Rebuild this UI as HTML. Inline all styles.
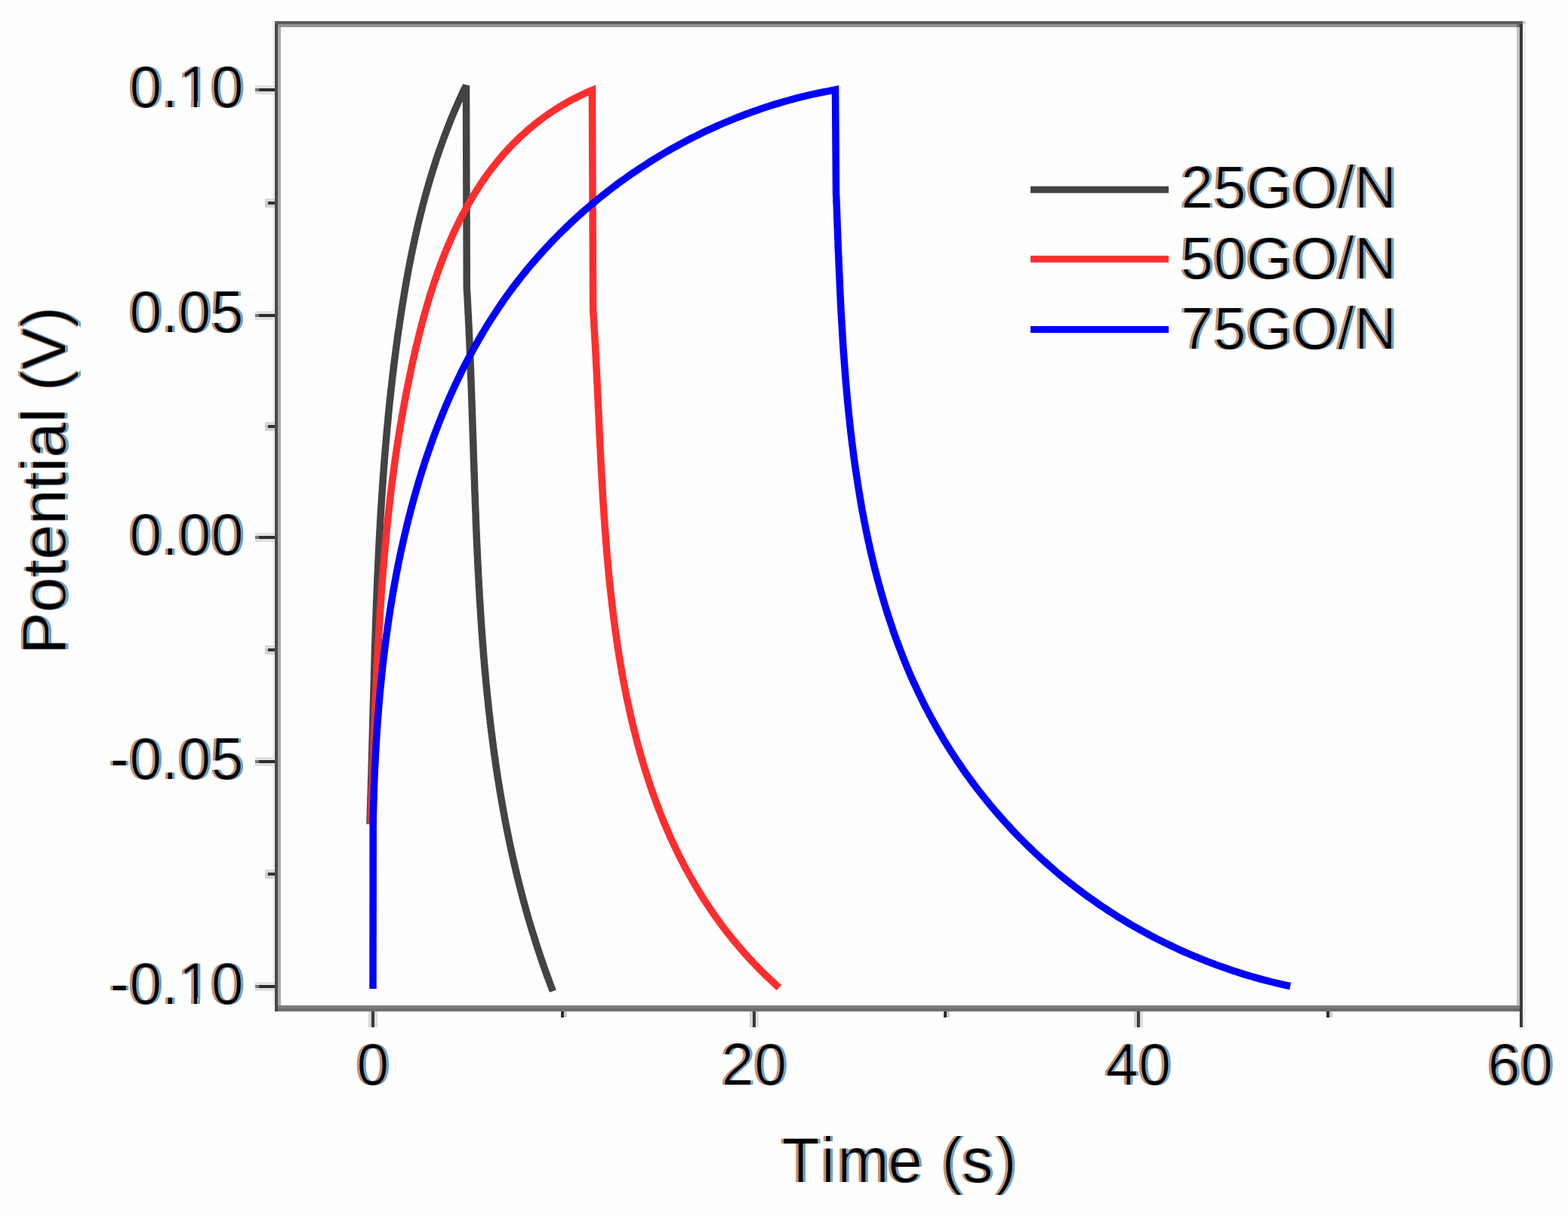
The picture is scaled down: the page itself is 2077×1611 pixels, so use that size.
<!DOCTYPE html>
<html><head><meta charset="utf-8"><title>Galvanostatic charge-discharge</title>
<style>html,body{margin:0;padding:0;background:#fefefe;overflow:hidden}svg{display:block}</style>
</head><body>
<svg width="2077" height="1611" viewBox="0 0 2077 1611">
<rect width="2077" height="1611" fill="#fefefe"/>
<g shape-rendering="crispEdges">
<rect x="360" y="32" width="4" height="1300" fill="#f2f2f2"/>
<rect x="364" y="28" width="1653" height="4" fill="#5c5c5c"/>
<rect x="368" y="32" width="1641" height="4" fill="#939393"/>
<rect x="364" y="32" width="4" height="1308" fill="#484848"/>
<rect x="368" y="36" width="4" height="1296" fill="#a9a9a9"/>
<rect x="2009" y="36" width="4" height="1296" fill="#c3c3c3"/>
<rect x="2009" y="32" width="4" height="4" fill="#6a6a6a"/>
<rect x="2017" y="28" width="4" height="8" fill="#d0d0d0"/>
<rect x="2013" y="32" width="4" height="1329" fill="#3a3a3a"/>
<rect x="2017" y="32" width="4" height="1329" fill="#f3f3f3"/>
<rect x="368" y="1332" width="1645" height="4" fill="#7c7c7c"/>
<rect x="368" y="1336" width="1645" height="4" fill="#6e6e6e"/>
<rect x="338" y="113.4" width="26" height="4" fill="#e2e2e2"/>
<rect x="338" y="121.4" width="26" height="4" fill="#e0e0e0"/>
<rect x="338" y="117.4" width="5" height="4" fill="#777"/>
<rect x="343" y="117.4" width="21" height="4" fill="#2c2c2c"/>
<rect x="338" y="411.6" width="26" height="4" fill="#e2e2e2"/>
<rect x="338" y="419.6" width="26" height="4" fill="#e0e0e0"/>
<rect x="338" y="415.6" width="5" height="4" fill="#777"/>
<rect x="343" y="415.6" width="21" height="4" fill="#2c2c2c"/>
<rect x="338" y="706.0" width="26" height="4" fill="#e2e2e2"/>
<rect x="338" y="714.0" width="26" height="4" fill="#e0e0e0"/>
<rect x="338" y="710.0" width="5" height="4" fill="#777"/>
<rect x="343" y="710.0" width="21" height="4" fill="#2c2c2c"/>
<rect x="338" y="1003.0" width="26" height="4" fill="#e2e2e2"/>
<rect x="338" y="1011.0" width="26" height="4" fill="#e0e0e0"/>
<rect x="338" y="1007.0" width="5" height="4" fill="#777"/>
<rect x="343" y="1007.0" width="21" height="4" fill="#2c2c2c"/>
<rect x="338" y="1301.0" width="26" height="4" fill="#e2e2e2"/>
<rect x="338" y="1309.0" width="26" height="4" fill="#e0e0e0"/>
<rect x="338" y="1305.0" width="5" height="4" fill="#777"/>
<rect x="343" y="1305.0" width="21" height="4" fill="#2c2c2c"/>
<rect x="351" y="262.5" width="13" height="4" fill="#dadada"/>
<rect x="351" y="270.5" width="13" height="4" fill="#d2d2d2"/>
<rect x="351" y="266.5" width="4" height="4" fill="#c8c8c8"/>
<rect x="355" y="266.5" width="9" height="4" fill="#333"/>
<rect x="351" y="559.0" width="13" height="4" fill="#dadada"/>
<rect x="351" y="567.0" width="13" height="4" fill="#d2d2d2"/>
<rect x="351" y="563.0" width="4" height="4" fill="#c8c8c8"/>
<rect x="355" y="563.0" width="9" height="4" fill="#333"/>
<rect x="351" y="855.0" width="13" height="4" fill="#dadada"/>
<rect x="351" y="863.0" width="13" height="4" fill="#d2d2d2"/>
<rect x="351" y="859.0" width="4" height="4" fill="#c8c8c8"/>
<rect x="355" y="859.0" width="9" height="4" fill="#333"/>
<rect x="351" y="1152.0" width="13" height="4" fill="#dadada"/>
<rect x="351" y="1160.0" width="13" height="4" fill="#d2d2d2"/>
<rect x="351" y="1156.0" width="4" height="4" fill="#c8c8c8"/>
<rect x="355" y="1156.0" width="9" height="4" fill="#333"/>
<rect x="488.0" y="1340" width="4" height="21" fill="#d4d4d4"/>
<rect x="496.0" y="1340" width="4" height="21" fill="#dcdcdc"/>
<rect x="492.0" y="1340" width="4" height="21" fill="#3a3a3a"/>
<rect x="993.0" y="1340" width="4" height="21" fill="#d4d4d4"/>
<rect x="1001.0" y="1340" width="4" height="21" fill="#dcdcdc"/>
<rect x="997.0" y="1340" width="4" height="21" fill="#3a3a3a"/>
<rect x="1502.0" y="1340" width="4" height="21" fill="#d4d4d4"/>
<rect x="1510.0" y="1340" width="4" height="21" fill="#dcdcdc"/>
<rect x="1506.0" y="1340" width="4" height="21" fill="#3a3a3a"/>
<rect x="743.0" y="1340" width="4" height="8" fill="#2e2e2e"/>
<rect x="747.0" y="1340" width="4" height="8" fill="#cfcfcf"/>
<rect x="1250.0" y="1340" width="4" height="8" fill="#2e2e2e"/>
<rect x="1254.0" y="1340" width="4" height="8" fill="#cfcfcf"/>
<rect x="1757.0" y="1340" width="4" height="8" fill="#2e2e2e"/>
<rect x="1761.0" y="1340" width="4" height="8" fill="#cfcfcf"/>
</g>
<g fill="none" stroke-width="9.5" stroke-linejoin="miter" stroke-miterlimit="4" stroke-linecap="butt">
<path d="M489.9 1092.0 L490.1 1087.0 L490.3 1082.1 L490.4 1077.2 L490.6 1072.2 L490.7 1067.3 L490.9 1062.3 L491.0 1057.4 L491.2 1052.4 L491.3 1047.4 L491.5 1042.5 L491.6 1037.5 L491.8 1032.6 L491.9 1027.6 L492.1 1022.6 L492.2 1017.7 L492.3 1012.7 L492.5 1007.7 L492.6 1002.8 L492.7 997.8 L492.9 992.8 L493.0 987.8 L493.1 982.9 L493.3 977.9 L493.4 972.9 L493.5 967.9 L493.7 962.9 L493.8 957.9 L493.9 953.0 L494.1 948.0 L494.2 943.0 L494.3 938.0 L494.5 933.0 L494.6 928.0 L494.8 923.0 L494.9 918.0 L495.0 913.0 L495.2 908.0 L495.3 903.0 L495.5 898.0 L495.6 893.0 L495.7 888.0 L495.9 883.0 L496.0 878.0 L496.2 873.0 L496.3 868.0 L496.5 863.0 L496.6 858.0 L496.8 853.0 L497.0 848.0 L497.1 842.9 L497.3 837.9 L497.5 832.9 L497.6 827.9 L497.8 822.9 L498.0 817.9 L498.2 812.9 L498.3 807.9 L498.5 802.9 L498.7 797.8 L498.9 792.8 L499.1 787.8 L499.3 782.8 L499.5 777.8 L499.7 772.8 L499.9 767.8 L500.1 762.7 L500.4 757.7 L500.6 752.7 L500.8 747.7 L501.1 742.7 L501.3 737.7 L501.5 732.7 L501.8 727.6 L502.0 722.6 L502.3 717.6 L502.5 712.6 L502.8 707.6 L503.1 702.6 L503.4 697.6 L503.6 692.6 L503.9 687.5 L504.2 682.5 L504.5 677.5 L504.8 672.5 L505.2 667.5 L505.5 662.5 L505.8 657.5 L506.1 652.5 L506.5 647.5 L506.8 642.5 L507.2 637.5 L507.5 632.5 L507.9 627.5 L508.3 622.5 L508.6 617.5 L509.0 612.5 L509.4 607.5 L509.8 602.5 L510.2 597.5 L510.6 592.5 L511.1 587.5 L511.5 582.5 L511.9 577.5 L512.4 572.5 L512.8 567.5 L513.3 562.5 L513.8 557.5 L514.2 552.5 L514.7 547.6 L515.2 542.6 L515.7 537.6 L516.2 532.6 L516.8 527.6 L517.3 522.6 L517.8 517.7 L518.4 512.7 L519.0 507.7 L519.5 502.8 L520.1 497.8 L520.7 492.8 L521.3 487.9 L521.9 482.9 L522.5 477.9 L523.1 473.0 L523.8 468.0 L524.4 463.1 L525.1 458.1 L525.8 453.2 L526.4 448.2 L527.1 443.3 L527.8 438.3 L528.6 433.4 L529.3 428.4 L530.0 423.5 L530.8 418.6 L531.5 413.6 L532.3 408.7 L533.1 403.8 L533.9 398.8 L534.7 393.9 L535.5 389.0 L536.3 384.1 L537.2 379.2 L538.0 374.3 L538.9 369.3 L539.8 364.4 L540.7 359.5 L541.6 354.6 L542.6 349.8 L543.5 344.9 L544.5 340.0 L545.5 335.1 L546.5 330.2 L547.5 325.4 L548.6 320.5 L549.6 315.7 L550.7 310.8 L551.8 306.0 L552.9 301.1 L554.0 296.3 L555.2 291.4 L556.4 286.6 L557.6 281.8 L558.8 277.0 L560.0 272.2 L561.3 267.4 L562.6 262.6 L563.9 257.8 L565.2 253.0 L566.6 248.2 L567.9 243.5 L569.3 238.7 L570.8 234.0 L572.2 229.2 L573.7 224.5 L575.2 219.8 L576.7 215.0 L578.2 210.3 L579.8 205.6 L581.4 200.9 L583.0 196.2 L584.7 191.5 L586.4 186.9 L588.1 182.2 L589.8 177.6 L591.6 172.9 L593.4 168.3 L595.2 163.6 L597.0 159.0 L598.9 154.4 L600.8 149.8 L602.8 145.2 L604.8 140.6 L606.8 136.1 L608.8 131.5 L610.9 127.0 L613.0 122.4 L615.1 117.9 L617.5 113.5 L618.3 380.0 L618.5 384.7 L618.8 389.4 L619.1 394.1 L619.3 398.8 L619.6 403.5 L619.8 408.2 L620.0 412.9 L620.3 417.6 L620.5 422.3 L620.7 427.0 L621.0 431.7 L621.2 436.4 L621.4 441.2 L621.6 445.9 L621.8 450.6 L622.0 455.3 L622.2 460.0 L622.4 464.8 L622.6 469.5 L622.8 474.2 L623.0 479.0 L623.2 483.7 L623.4 488.4 L623.5 493.2 L623.7 497.9 L623.9 502.6 L624.1 507.4 L624.2 512.1 L624.4 516.8 L624.6 521.6 L624.7 526.3 L624.9 531.1 L625.1 535.8 L625.2 540.6 L625.4 545.3 L625.6 550.1 L625.7 554.8 L625.9 559.6 L626.0 564.3 L626.2 569.1 L626.3 573.8 L626.5 578.6 L626.7 583.3 L626.8 588.1 L627.0 592.9 L627.1 597.6 L627.3 602.4 L627.4 607.1 L627.6 611.9 L627.8 616.7 L627.9 621.4 L628.1 626.2 L628.3 631.0 L628.4 635.7 L628.6 640.5 L628.7 645.2 L628.9 650.0 L629.1 654.8 L629.3 659.5 L629.4 664.3 L629.6 669.1 L629.8 673.8 L630.0 678.6 L630.2 683.4 L630.3 688.1 L630.5 692.9 L630.7 697.7 L630.9 702.4 L631.1 707.2 L631.3 712.0 L631.5 716.7 L631.7 721.5 L632.0 726.3 L632.2 731.0 L632.4 735.8 L632.6 740.6 L632.8 745.3 L633.1 750.1 L633.3 754.8 L633.6 759.6 L633.8 764.4 L634.1 769.1 L634.3 773.9 L634.6 778.7 L634.9 783.4 L635.1 788.2 L635.4 792.9 L635.7 797.7 L636.0 802.5 L636.3 807.2 L636.6 812.0 L636.9 816.7 L637.2 821.5 L637.5 826.2 L637.9 831.0 L638.2 835.7 L638.5 840.5 L638.9 845.2 L639.2 850.0 L639.6 854.7 L640.0 859.5 L640.3 864.2 L640.7 869.0 L641.1 873.7 L641.5 878.4 L641.9 883.2 L642.3 887.9 L642.8 892.7 L643.2 897.4 L643.6 902.1 L644.1 906.9 L644.6 911.6 L645.0 916.3 L645.5 921.0 L646.0 925.8 L646.5 930.5 L647.0 935.2 L647.5 939.9 L648.0 944.6 L648.6 949.4 L649.1 954.1 L649.6 958.8 L650.2 963.5 L650.8 968.2 L651.4 972.9 L652.0 977.6 L652.6 982.3 L653.2 987.0 L653.8 991.7 L654.4 996.4 L655.1 1001.1 L655.8 1005.8 L656.4 1010.5 L657.1 1015.2 L657.8 1019.9 L658.5 1024.5 L659.2 1029.2 L660.0 1033.9 L660.7 1038.6 L661.5 1043.2 L662.2 1047.9 L663.0 1052.6 L663.8 1057.2 L664.6 1061.9 L665.4 1066.6 L666.3 1071.2 L667.1 1075.9 L668.0 1080.5 L668.8 1085.2 L669.7 1089.8 L670.6 1094.4 L671.5 1099.1 L672.5 1103.7 L673.4 1108.4 L674.3 1113.0 L675.3 1117.6 L676.3 1122.2 L677.3 1126.9 L678.3 1131.5 L679.3 1136.1 L680.4 1140.7 L681.4 1145.3 L682.5 1149.9 L683.6 1154.5 L684.7 1159.1 L685.8 1163.7 L687.0 1168.3 L688.1 1172.9 L689.3 1177.4 L690.5 1182.0 L691.7 1186.6 L692.9 1191.2 L694.1 1195.7 L695.4 1200.3 L696.6 1204.9 L697.9 1209.4 L699.2 1214.0 L700.5 1218.5 L701.9 1223.1 L703.2 1227.6 L704.6 1232.1 L706.0 1236.7 L707.4 1241.2 L708.8 1245.7 L710.2 1250.2 L711.7 1254.8 L713.2 1259.3 L714.7 1263.8 L716.2 1268.3 L717.7 1272.8 L719.3 1277.3 L720.8 1281.8 L722.4 1286.2 L724.0 1290.7 L725.7 1295.2 L727.3 1299.7 L729.0 1304.1 L730.7 1308.6 L732.4 1313.1" stroke="#434343"/>
<path d="M490.9 1092.0 L491.2 1086.6 L491.4 1081.2 L491.6 1075.9 L491.8 1070.5 L492.0 1065.1 L492.3 1059.7 L492.5 1054.4 L492.7 1049.0 L492.9 1043.6 L493.1 1038.2 L493.3 1032.9 L493.5 1027.5 L493.7 1022.1 L493.9 1016.8 L494.1 1011.4 L494.4 1006.0 L494.6 1000.7 L494.8 995.3 L495.0 990.0 L495.2 984.6 L495.4 979.3 L495.6 973.9 L495.8 968.5 L496.0 963.2 L496.2 957.8 L496.5 952.5 L496.7 947.1 L496.9 941.8 L497.1 936.4 L497.3 931.1 L497.6 925.7 L497.8 920.4 L498.0 915.1 L498.3 909.7 L498.5 904.4 L498.8 899.0 L499.0 893.7 L499.3 888.3 L499.5 883.0 L499.8 877.7 L500.0 872.3 L500.3 867.0 L500.6 861.7 L500.9 856.3 L501.2 851.0 L501.5 845.7 L501.8 840.3 L502.1 835.0 L502.4 829.7 L502.7 824.3 L503.0 819.0 L503.4 813.7 L503.7 808.3 L504.0 803.0 L504.4 797.7 L504.8 792.4 L505.1 787.0 L505.5 781.7 L505.9 776.4 L506.3 771.0 L506.7 765.7 L507.1 760.4 L507.5 755.1 L508.0 749.7 L508.4 744.4 L508.8 739.1 L509.3 733.8 L509.8 728.5 L510.3 723.1 L510.8 717.8 L511.3 712.5 L511.8 707.2 L512.3 701.8 L512.8 696.5 L513.4 691.2 L513.9 685.9 L514.5 680.6 L515.1 675.3 L515.7 669.9 L516.3 664.6 L516.9 659.3 L517.5 654.0 L518.2 648.7 L518.8 643.3 L519.5 638.0 L520.2 632.7 L520.9 627.4 L521.6 622.1 L522.3 616.7 L523.1 611.4 L523.8 606.1 L524.6 600.8 L525.4 595.5 L526.2 590.2 L527.0 584.8 L527.8 579.5 L528.7 574.2 L529.6 568.9 L530.4 563.6 L531.3 558.2 L532.3 552.9 L533.2 547.6 L534.1 542.3 L535.1 537.0 L536.1 531.6 L537.1 526.3 L538.1 521.0 L539.1 515.7 L540.2 510.4 L541.3 505.0 L542.4 499.7 L543.5 494.4 L544.6 489.1 L545.7 483.8 L546.9 478.4 L548.1 473.1 L549.3 467.8 L550.5 462.5 L551.8 457.2 L553.1 451.9 L554.4 446.6 L555.7 441.3 L557.0 436.0 L558.4 430.7 L559.8 425.4 L561.2 420.2 L562.7 414.9 L564.2 409.7 L565.7 404.4 L567.2 399.2 L568.8 394.0 L570.4 388.8 L572.1 383.7 L573.7 378.5 L575.4 373.4 L577.2 368.3 L578.9 363.2 L580.7 358.1 L582.6 353.0 L584.5 348.0 L586.4 343.0 L588.3 338.0 L590.3 333.0 L592.4 328.1 L594.4 323.2 L596.6 318.3 L598.7 313.4 L600.9 308.6 L603.1 303.8 L605.4 299.0 L607.8 294.2 L610.1 289.5 L612.5 284.8 L615.0 280.2 L617.5 275.6 L620.1 271.0 L622.7 266.5 L625.3 262.0 L628.0 257.5 L630.8 253.1 L633.6 248.7 L636.4 244.3 L639.3 240.0 L642.3 235.7 L645.3 231.5 L648.4 227.3 L651.5 223.2 L654.7 219.1 L657.9 215.1 L661.2 211.1 L664.6 207.1 L668.0 203.2 L671.4 199.4 L675.0 195.6 L678.5 191.8 L682.2 188.1 L685.9 184.5 L689.7 180.9 L693.5 177.4 L697.4 173.9 L701.4 170.4 L705.4 167.1 L709.5 163.8 L713.6 160.5 L717.9 157.3 L722.1 154.2 L726.5 151.1 L730.9 148.1 L735.4 145.2 L740.0 142.3 L744.6 139.5 L749.4 136.7 L754.1 134.0 L759.0 131.4 L763.9 128.9 L768.9 126.4 L774.0 124.0 L779.2 121.7 L784.4 119.6 L785.6 410.0 L785.9 414.7 L786.2 419.4 L786.5 424.0 L786.8 428.7 L787.0 433.4 L787.3 438.0 L787.6 442.7 L787.9 447.4 L788.1 452.1 L788.4 456.8 L788.7 461.5 L788.9 466.2 L789.2 471.0 L789.4 475.7 L789.6 480.4 L789.9 485.2 L790.1 489.9 L790.4 494.7 L790.6 499.5 L790.8 504.2 L791.1 509.0 L791.3 513.8 L791.5 518.6 L791.7 523.4 L792.0 528.2 L792.2 533.0 L792.4 537.8 L792.6 542.6 L792.9 547.4 L793.1 552.2 L793.3 557.1 L793.5 561.9 L793.8 566.7 L794.0 571.6 L794.2 576.4 L794.5 581.3 L794.7 586.1 L794.9 591.0 L795.2 595.8 L795.4 600.7 L795.7 605.6 L795.9 610.4 L796.2 615.3 L796.4 620.2 L796.7 625.1 L796.9 629.9 L797.2 634.8 L797.5 639.7 L797.8 644.6 L798.1 649.5 L798.3 654.4 L798.6 659.2 L798.9 664.1 L799.2 669.0 L799.6 673.9 L799.9 678.8 L800.2 683.7 L800.5 688.6 L800.9 693.5 L801.2 698.4 L801.6 703.3 L802.0 708.1 L802.3 713.0 L802.7 717.9 L803.1 722.8 L803.5 727.7 L803.9 732.6 L804.3 737.5 L804.8 742.4 L805.2 747.3 L805.6 752.1 L806.1 757.0 L806.6 761.9 L807.0 766.8 L807.5 771.7 L808.0 776.5 L808.5 781.4 L809.1 786.3 L809.6 791.1 L810.2 796.0 L810.7 800.9 L811.3 805.7 L811.9 810.6 L812.5 815.4 L813.1 820.3 L813.7 825.1 L814.4 830.0 L815.0 834.8 L815.7 839.6 L816.4 844.4 L817.1 849.3 L817.8 854.1 L818.5 858.9 L819.3 863.7 L820.0 868.5 L820.8 873.3 L821.6 878.1 L822.4 882.9 L823.2 887.7 L824.1 892.4 L824.9 897.2 L825.8 902.0 L826.7 906.7 L827.6 911.5 L828.6 916.2 L829.5 921.0 L830.5 925.7 L831.5 930.4 L832.5 935.1 L833.5 939.8 L834.6 944.5 L835.6 949.2 L836.7 953.9 L837.8 958.6 L838.9 963.3 L840.1 967.9 L841.3 972.6 L842.5 977.2 L843.7 981.9 L844.9 986.5 L846.2 991.1 L847.4 995.7 L848.7 1000.3 L850.1 1004.9 L851.4 1009.5 L852.8 1014.1 L854.2 1018.6 L855.6 1023.2 L857.0 1027.7 L858.5 1032.2 L860.0 1036.8 L861.5 1041.3 L863.0 1045.8 L864.6 1050.3 L866.2 1054.7 L867.8 1059.2 L869.4 1063.6 L871.1 1068.1 L872.8 1072.5 L874.5 1076.9 L876.2 1081.3 L878.0 1085.7 L879.8 1090.1 L881.6 1094.5 L883.5 1098.8 L885.4 1103.1 L887.3 1107.5 L889.2 1111.8 L891.2 1116.1 L893.2 1120.3 L895.2 1124.6 L897.3 1128.9 L899.4 1133.1 L901.5 1137.3 L903.7 1141.5 L905.8 1145.7 L908.0 1149.9 L910.3 1154.0 L912.6 1158.2 L914.9 1162.3 L917.2 1166.4 L919.6 1170.5 L922.0 1174.6 L924.4 1178.7 L926.9 1182.7 L929.4 1186.7 L931.9 1190.7 L934.5 1194.7 L937.1 1198.7 L939.7 1202.6 L942.4 1206.6 L945.1 1210.5 L947.8 1214.4 L950.6 1218.3 L953.4 1222.1 L956.2 1226.0 L959.1 1229.8 L962.0 1233.6 L965.0 1237.4 L968.0 1241.1 L971.0 1244.9 L974.1 1248.6 L977.2 1252.3 L980.3 1256.0 L983.5 1259.6 L986.7 1263.3 L989.9 1266.9 L993.2 1270.5 L996.6 1274.0 L999.9 1277.6 L1003.3 1281.1 L1006.8 1284.6 L1010.3 1288.1 L1013.8 1291.6 L1017.4 1295.0 L1021.0 1298.4 L1024.6 1301.8 L1028.3 1305.2 L1032.0 1308.5" stroke="#ff2e2e"/>
<path d="M494 1310 L494.2 1092.9 L494.3 1086.8 L494.4 1080.7 L494.6 1074.5 L494.7 1068.4 L494.9 1062.2 L495.1 1056.1 L495.3 1049.9 L495.5 1043.7 L495.7 1037.5 L495.9 1031.2 L496.2 1025.0 L496.5 1018.7 L496.8 1012.5 L497.1 1006.2 L497.4 999.9 L497.8 993.7 L498.1 987.4 L498.5 981.1 L498.9 974.7 L499.3 968.4 L499.7 962.1 L500.2 955.8 L500.7 949.4 L501.2 943.1 L501.7 936.7 L502.2 930.4 L502.8 924.0 L503.3 917.7 L503.9 911.3 L504.6 904.9 L505.2 898.6 L505.9 892.2 L506.5 885.8 L507.2 879.4 L508.0 873.1 L508.7 866.7 L509.5 860.3 L510.3 853.9 L511.1 847.5 L512.0 841.2 L512.9 834.8 L513.8 828.4 L514.7 822.1 L515.7 815.7 L516.6 809.3 L517.6 803.0 L518.7 796.6 L519.7 790.2 L520.8 783.9 L521.9 777.6 L523.1 771.2 L524.2 764.9 L525.4 758.6 L526.7 752.2 L527.9 745.9 L529.2 739.6 L530.5 733.3 L531.9 727.0 L533.3 720.8 L534.7 714.5 L536.1 708.2 L537.6 702.0 L539.1 695.7 L540.6 689.5 L542.2 683.3 L543.8 677.1 L545.4 670.9 L547.1 664.7 L548.8 658.6 L550.5 652.4 L552.3 646.3 L554.1 640.1 L555.9 634.0 L557.8 627.9 L559.7 621.9 L561.6 615.8 L563.6 609.8 L565.6 603.7 L567.7 597.7 L569.8 591.7 L571.9 585.7 L574.0 579.8 L576.2 573.8 L578.5 567.9 L580.7 562.0 L583.1 556.2 L585.4 550.3 L587.8 544.5 L590.2 538.6 L592.7 532.8 L595.2 527.1 L597.8 521.3 L600.4 515.6 L603.0 509.9 L605.7 504.2 L608.4 498.6 L611.1 492.9 L613.9 487.3 L616.8 481.8 L619.7 476.2 L622.6 470.7 L625.6 465.2 L628.6 459.7 L631.7 454.3 L634.8 448.8 L637.9 443.5 L641.1 438.1 L644.3 432.8 L647.6 427.5 L651.0 422.2 L654.3 417.0 L657.8 411.8 L661.2 406.6 L664.7 401.4 L668.3 396.3 L671.9 391.2 L675.6 386.2 L679.3 381.2 L683.0 376.2 L686.9 371.3 L690.7 366.4 L694.6 361.5 L698.6 356.6 L702.6 351.8 L706.6 347.1 L710.7 342.3 L714.9 337.7 L719.1 333.0 L723.3 328.4 L727.6 323.8 L731.9 319.3 L736.3 314.8 L740.7 310.3 L745.2 305.9 L749.7 301.5 L754.2 297.1 L758.8 292.8 L763.4 288.6 L768.1 284.3 L772.8 280.2 L777.6 276.0 L782.4 271.9 L787.2 267.9 L792.1 263.9 L797.0 259.9 L802.0 256.0 L806.9 252.1 L812.0 248.2 L817.0 244.4 L822.1 240.7 L827.3 237.0 L832.4 233.3 L837.6 229.7 L842.9 226.2 L848.1 222.6 L853.5 219.2 L858.8 215.7 L864.2 212.4 L869.6 209.0 L875.0 205.7 L880.5 202.5 L886.0 199.3 L891.5 196.2 L897.1 193.1 L902.6 190.1 L908.3 187.1 L913.9 184.1 L919.6 181.3 L925.3 178.4 L931.0 175.6 L936.8 172.9 L942.5 170.2 L948.3 167.6 L954.2 165.0 L960.0 162.5 L965.9 160.1 L971.8 157.6 L977.7 155.3 L983.7 153.0 L989.6 150.7 L995.6 148.5 L1001.6 146.4 L1007.7 144.3 L1013.7 142.3 L1019.8 140.3 L1025.9 138.4 L1032.0 136.6 L1038.1 134.8 L1044.3 133.0 L1050.4 131.4 L1056.6 129.7 L1062.8 128.2 L1069.0 126.7 L1075.3 125.2 L1081.5 123.9 L1087.8 122.5 L1094.1 121.3 L1100.3 120.1 L1106.5 118.8 L1107.5 255.0 L1107.8 261.5 L1108.0 268.0 L1108.3 274.4 L1108.5 280.9 L1108.7 287.4 L1109.0 293.9 L1109.2 300.5 L1109.5 307.0 L1109.7 313.5 L1110.0 320.1 L1110.2 326.7 L1110.5 333.3 L1110.8 339.9 L1111.0 346.5 L1111.3 353.1 L1111.6 359.7 L1111.9 366.4 L1112.2 373.0 L1112.5 379.7 L1112.8 386.3 L1113.1 393.0 L1113.4 399.7 L1113.8 406.4 L1114.1 413.1 L1114.5 419.8 L1114.9 426.5 L1115.3 433.2 L1115.7 439.9 L1116.1 446.6 L1116.5 453.4 L1116.9 460.1 L1117.4 466.8 L1117.9 473.5 L1118.4 480.3 L1118.9 487.0 L1119.4 493.8 L1119.9 500.5 L1120.5 507.2 L1121.1 514.0 L1121.7 520.7 L1122.3 527.5 L1122.9 534.2 L1123.6 541.0 L1124.3 547.7 L1125.0 554.4 L1125.7 561.2 L1126.4 567.9 L1127.2 574.6 L1128.0 581.4 L1128.8 588.1 L1129.7 594.8 L1130.5 601.5 L1131.4 608.2 L1132.3 614.9 L1133.3 621.6 L1134.3 628.3 L1135.3 635.0 L1136.3 641.6 L1137.4 648.3 L1138.5 655.0 L1139.6 661.6 L1140.7 668.2 L1141.9 674.9 L1143.1 681.5 L1144.4 688.1 L1145.7 694.7 L1147.0 701.3 L1148.4 707.9 L1149.7 714.4 L1151.2 721.0 L1152.6 727.5 L1154.1 734.1 L1155.7 740.6 L1157.2 747.1 L1158.8 753.6 L1160.5 760.0 L1162.2 766.5 L1163.9 772.9 L1165.7 779.3 L1167.5 785.8 L1169.3 792.1 L1171.2 798.5 L1173.1 804.9 L1175.1 811.2 L1177.1 817.5 L1179.2 823.8 L1181.3 830.1 L1183.4 836.4 L1185.6 842.6 L1187.9 848.8 L1190.2 855.0 L1192.5 861.2 L1194.9 867.4 L1197.3 873.5 L1199.8 879.6 L1202.3 885.7 L1204.9 891.8 L1207.5 897.8 L1210.2 903.8 L1213.0 909.8 L1215.7 915.8 L1218.6 921.7 L1221.5 927.7 L1224.4 933.6 L1227.4 939.4 L1230.5 945.3 L1233.6 951.1 L1236.7 956.8 L1240.0 962.6 L1243.2 968.3 L1246.6 974.0 L1249.9 979.7 L1253.4 985.3 L1256.9 990.9 L1260.4 996.5 L1264.0 1002.0 L1267.7 1007.6 L1271.4 1013.0 L1275.1 1018.5 L1278.9 1023.9 L1282.8 1029.3 L1286.7 1034.6 L1290.6 1039.9 L1294.6 1045.2 L1298.7 1050.4 L1302.8 1055.6 L1307.0 1060.8 L1311.2 1065.9 L1315.4 1071.0 L1319.7 1076.0 L1324.1 1081.0 L1328.5 1086.0 L1332.9 1090.9 L1337.4 1095.8 L1341.9 1100.7 L1346.5 1105.5 L1351.1 1110.3 L1355.8 1115.0 L1360.5 1119.7 L1365.3 1124.3 L1370.1 1128.9 L1374.9 1133.4 L1379.8 1137.9 L1384.8 1142.4 L1389.7 1146.8 L1394.8 1151.2 L1399.8 1155.5 L1404.9 1159.8 L1410.1 1164.0 L1415.3 1168.2 L1420.5 1172.3 L1425.8 1176.4 L1431.1 1180.4 L1436.4 1184.4 L1441.8 1188.3 L1447.3 1192.2 L1452.7 1196.0 L1458.2 1199.8 L1463.8 1203.5 L1469.4 1207.2 L1475.0 1210.8 L1480.6 1214.4 L1486.3 1217.9 L1492.0 1221.4 L1497.8 1224.8 L1503.6 1228.1 L1509.4 1231.4 L1515.3 1234.7 L1521.1 1237.8 L1527.1 1241.0 L1533.0 1244.1 L1539.0 1247.1 L1545.0 1250.0 L1551.0 1252.9 L1557.1 1255.8 L1563.2 1258.6 L1569.3 1261.3 L1575.4 1264.0 L1581.6 1266.6 L1587.8 1269.2 L1594.0 1271.7 L1600.2 1274.1 L1606.5 1276.5 L1612.7 1278.9 L1619.0 1281.1 L1625.3 1283.3 L1631.7 1285.5 L1638.0 1287.6 L1644.4 1289.6 L1650.8 1291.6 L1657.2 1293.5 L1663.7 1295.3 L1670.1 1297.1 L1676.6 1298.8 L1683.0 1300.5 L1689.5 1302.1 L1696.0 1303.6 L1702.5 1305.1 L1709.1 1306.5" stroke="#0000ff"/>
</g>
<g stroke-width="9" fill="none">
<line x1="1365" y1="251.3" x2="1548" y2="251.3" stroke="#434343"/>
<line x1="1365" y1="343.3" x2="1548" y2="343.3" stroke="#ff2e2e"/>
<line x1="1365" y1="436.6" x2="1548" y2="436.6" stroke="#0000ff"/>
</g>
<defs><filter id="er" x="0" y="0" width="2077" height="1611" filterUnits="userSpaceOnUse"><feMorphology operator="erode" radius="1.4 0"/></filter></defs>
<g transform="translate(-2.5 0)" font-family="Liberation Sans, Arial, sans-serif" fill="#c89068">
<g font-size="78">
<text x="1564" y="275">25GO/N</text>
<text x="1564" y="368.5">50GO/N</text>
<text x="1564" y="462">75GO/N</text>
<text x="323" y="142.2" text-anchor="end">0.10</text>
<text x="323" y="440.4" text-anchor="end">0.05</text>
<text x="323" y="734.8" text-anchor="end">0.00</text>
<text x="323" y="1031.8" text-anchor="end">-0.05</text>
<text x="323" y="1329.8" text-anchor="end">-0.10</text>
<text x="494.0" y="1437" text-anchor="middle">0</text>
<text x="999.0" y="1437" text-anchor="middle">20</text>
<text x="1508.0" y="1437" text-anchor="middle">40</text>
<text x="2014.0" y="1437" text-anchor="middle">60</text>
</g>
<text x="1035.2 1087.8 1108.9 1176.05 1222.2 1246.9 1274.35 1319.25" y="1566" font-size="83">Time (s)</text>
<text transform="translate(87 636.5) rotate(-90)" text-anchor="middle" letter-spacing="0.3" font-size="83">Potential (V)</text>
</g>
<g transform="translate(2.5 0)" font-family="Liberation Sans, Arial, sans-serif" fill="#6aa2d0">
<g font-size="78">
<text x="1564" y="275">25GO/N</text>
<text x="1564" y="368.5">50GO/N</text>
<text x="1564" y="462">75GO/N</text>
<text x="323" y="142.2" text-anchor="end">0.10</text>
<text x="323" y="440.4" text-anchor="end">0.05</text>
<text x="323" y="734.8" text-anchor="end">0.00</text>
<text x="323" y="1031.8" text-anchor="end">-0.05</text>
<text x="323" y="1329.8" text-anchor="end">-0.10</text>
<text x="494.0" y="1437" text-anchor="middle">0</text>
<text x="999.0" y="1437" text-anchor="middle">20</text>
<text x="1508.0" y="1437" text-anchor="middle">40</text>
<text x="2014.0" y="1437" text-anchor="middle">60</text>
</g>
<text x="1035.2 1087.8 1108.9 1176.05 1222.2 1246.9 1274.35 1319.25" y="1566" font-size="83">Time (s)</text>
<text transform="translate(87 636.5) rotate(-90)" text-anchor="middle" letter-spacing="0.3" font-size="83">Potential (V)</text>
</g>
<g filter="url(#er)">
<g transform="translate(0.0 0)" font-family="Liberation Sans, Arial, sans-serif" fill="#000">
<g font-size="78">
<text x="1564" y="275">25GO/N</text>
<text x="1564" y="368.5">50GO/N</text>
<text x="1564" y="462">75GO/N</text>
<text x="323" y="142.2" text-anchor="end">0.10</text>
<text x="323" y="440.4" text-anchor="end">0.05</text>
<text x="323" y="734.8" text-anchor="end">0.00</text>
<text x="323" y="1031.8" text-anchor="end">-0.05</text>
<text x="323" y="1329.8" text-anchor="end">-0.10</text>
<text x="494.0" y="1437" text-anchor="middle">0</text>
<text x="999.0" y="1437" text-anchor="middle">20</text>
<text x="1508.0" y="1437" text-anchor="middle">40</text>
<text x="2014.0" y="1437" text-anchor="middle">60</text>
</g>
<text x="1035.2 1087.8 1108.9 1176.05 1222.2 1246.9 1274.35 1319.25" y="1566" font-size="83">Time (s)</text>
<text transform="translate(87 636.5) rotate(-90)" text-anchor="middle" letter-spacing="0.3" font-size="83">Potential (V)</text>
</g>
</g>
<g shape-rendering="crispEdges">
<rect x="238" y="135" width="19.30" height="9" fill="#fefefe"/>
<rect x="261.40" y="135" width="18.20" height="9" fill="#fefefe"/>
<rect x="253.4" y="134" width="3.90" height="8" fill="#c89068"/>
<rect x="261.40" y="134" width="3.90" height="8" fill="#6aa2d0"/>
</g>
<g shape-rendering="crispEdges">
<rect x="238" y="1323" width="19.30" height="9" fill="#fefefe"/>
<rect x="261.40" y="1323" width="18.20" height="9" fill="#fefefe"/>
<rect x="253.4" y="1322" width="3.90" height="8" fill="#c89068"/>
<rect x="261.40" y="1322" width="3.90" height="8" fill="#6aa2d0"/>
</g>
</svg>
</body></html>
